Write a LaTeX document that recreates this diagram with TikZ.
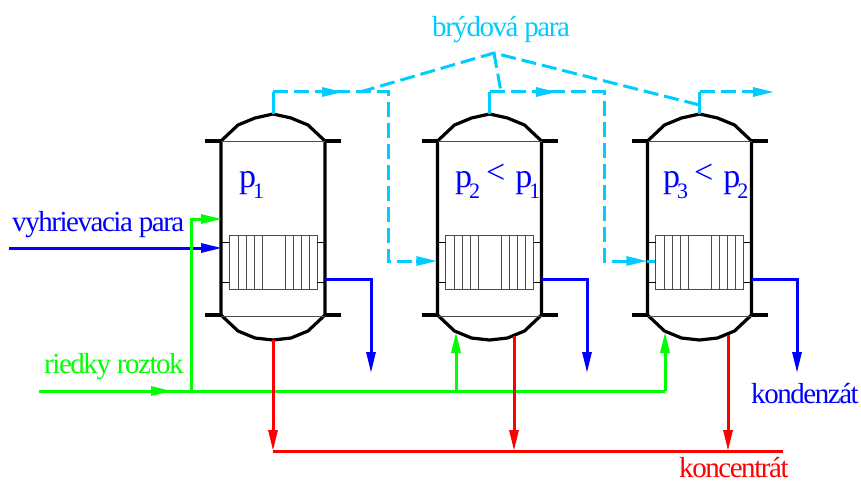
\documentclass[tikz,border=0pt]{standalone}
\usepackage{fontspec}
\setmainfont{Liberation Serif}
\newfontfamily\lblfont[LetterSpace=-5]{Liberation Serif}
\usetikzlibrary{arrows.meta, positioning}
\definecolor{brydcol}{RGB}{0,204,255}
\definecolor{parcol}{RGB}{0,0,255}
\definecolor{roztcol}{RGB}{0,255,0}
\definecolor{konccol}{RGB}{255,0,0}
\newcommand{\pres}[1]{p\kern-3pt\raisebox{-11pt}{\fontsize{22}{22}\selectfont #1}}
\newcommand{\less}{\kern6pt\raisebox{4pt}{<}\kern10pt}
\begin{document}
\begin{tikzpicture}[
    x=1pt, y=-1pt,
    vessel/.style={minimum width=104pt, minimum height=226pt, inner sep=0pt},
    heater/.style={draw=black!70, line width=1pt, minimum width=88pt, minimum height=54pt, inner sep=0pt},
    wall/.style={line width=3.2pt},
    thinln/.style={line width=1pt},
    arr/.style={-{Triangle[length=21pt, width=9pt]}},
    para/.style={draw=parcol, line width=3pt},
    rozt/.style={draw=roztcol, line width=3pt},
    konc/.style={draw=konccol, line width=3pt},
    bryd/.style={draw=brydcol, line width=3pt},
    brydd/.style={bryd, dash pattern=on 15pt off 6pt},
    lbl/.style={inner sep=0pt, anchor=base west, font=\lblfont\fontsize{29}{30}\selectfont},
    plbl/.style={inner sep=0pt, anchor=base west, text=parcol, font=\fontsize{34}{36}\selectfont},
]
\useasboundingbox (0,0) rectangle (861,484);

% Vessels
\foreach \n/\x in {1/273, 2/489.5, 3/699.5} {
    \node[vessel] (v\n) at (\x, 227) {};
    \node[heater] (h\n) at (\x, 262) {};
    \begin{scope}[shift={(\x, 0)}]
        \draw[wall, line join=round] (-52,315) -- (-52,141) -- (-35,125) -- (-18,118) -- (0,114)
            -- (18,118) -- (35,125) -- (52,141) -- (52,315) -- (35,331) -- (18,338) -- (0,340)
            -- (-18,338) -- (-35,331) -- cycle;
        \draw[wall] (-68,141) -- (-52,141) (52,141) -- (68,141);
        \draw[wall] (-68,315) -- (-52,315) (52,315) -- (68,315);
        \draw[thinln, black!70] (-52,141) -- (52,141) (-52,316) -- (52,316);
        \draw[thinln] (-52,242) -- (-44,242) (44,242) -- (52,242);
        \draw[thinln] (-52,282) -- (-44,282) (44,282) -- (52,282);
        % Tubes
        \foreach \t in {-35,-27,-19,-11,12,20,28,36}
            \draw[thinln, black!70] (\t,235) -- (\t,289);
    \end{scope}
}

% Vapour lines
\coordinate (c1) at (388, 92);
\coordinate (c2) at (604, 92);
\coordinate (roof) at (494, 53);
\draw[bryd] (v1.north) -- (273,92);
\draw[bryd] (v2.north) -- (489.5,92);
\draw[bryd] (v3.north) -- (699.5,92);
\draw[brydd, arr] (273,92) -- (343,92);
\draw[brydd] (335,92) -- (c1) -- (388,261) -- (416,261);
\draw[brydd, arr] (416,261) -- (v2.west |- 0,261);
\draw[brydd, arr] (489.5,92) -- (557,92);
\draw[brydd] (550,92) -- (c2) -- (604,261) -- (627,261);
\draw[brydd, arr] (627,261) -- (v3.west |- 0,261);
\draw[bryd] (v3.west |- 0,261) -- (h3.west |- 0,261);
\draw[brydd, arr] (699.5,92) -- (774,92);
\draw[brydd] (360,92) -- (roof) -- (699.5,105);
\draw[brydd] (roof) -- (501,92);

% Heating steam and condensate
\draw[para, arr] (9,248) -- (222,248);
\foreach \n/\x in {1/371, 2/587, 3/797}
    \draw[para, arr] (v\n.east |- 0,279) -| (\x,373);

% Feed
\coordinate (feed) at (191.5,391);
\draw[rozt, arr] (39,391) -- (172,391);
\draw[rozt] (155,391) -- (665,391);
\draw[rozt, arr] (feed) |- (222,219);
\draw[rozt, arr] (456,391) -- (456,332);
\draw[rozt, arr] (665,391) -- (665,332);

% Concentrate
\draw[konc] (273,451) -- (783,451);
\draw[konc, arr] (v1.south) -- (273,451);
\draw[konc, arr] (514,336) -- (514,451);
\draw[konc, arr] (728,335) -- (728,451);

% Labels
\node[lbl, text=brydcol] (tbryd) at (432,37) {brýdová para};
\node[lbl, text=parcol] (tvyh) at (12,231) {vyhrievacia para};
\node[lbl, text=roztcol] (trie) at (44,373) {riedky roztok};
\node[lbl, text=parcol] (tkon) at (751,403) {kondenzát};
\node[lbl, text=konccol] (tkonc) at (679,477.5) {koncentrát};
\node[plbl] (tp1) at (239,187) {\pres{1}};
\node[plbl] (tp2) at (455,187) {\pres{2}\less\pres{1}};
\node[plbl] (tp3) at (663,187) {\pres{3}\less\pres{2}};
\end{tikzpicture}
\end{document}
